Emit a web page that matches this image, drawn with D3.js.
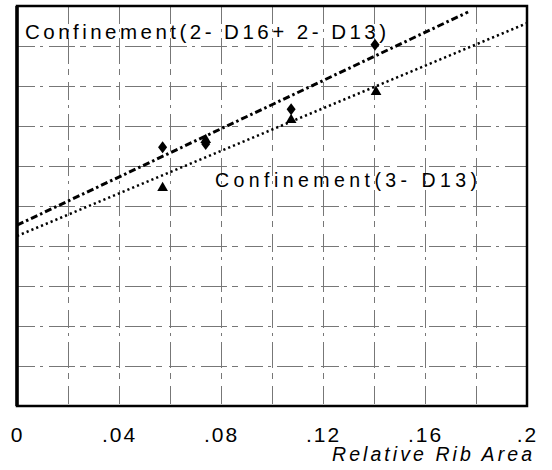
<!DOCTYPE html>
<html>
<head>
<meta charset="utf-8">
<script src="https://cdn.jsdelivr.net/npm/d3@7"></script>
<style>
  html, body { margin: 0; padding: 0; background: #fff; }
  svg { display: block; font-family: "Liberation Sans", Arial, sans-serif; }
</style>
</head>
<body>
<svg id="chart" width="552" height="470"></svg>
<script>
// x tick values and their labels
var xTicks = [0, 0.04, 0.08, 0.12, 0.16, 0.2];
var xTickLabels = ['0', '.04', '.08', '.12', '.16', '.2'];
var xGrid = [0.02, 0.04, 0.06, 0.08, 0.1, 0.12, 0.14, 0.16, 0.18];
var yGrid = [1, 2, 3, 4, 5, 6, 7, 8, 9];

// Confinement(2-D16+2-D13), diamonds
var seriesAX = [0.0571, 0.074, 0.1075, 0.1404];
var seriesAY = [6.47, 6.55, 7.42, 9.03];
// Confinement(3-D13), triangles
var seriesBX = [0.0571, 0.074, 0.1075, 0.1408];
var seriesBY = [5.45, 6.65, 7.15, 7.85];

// fitted lines, two end points each
var fitAX = [0, 0.1769];
var fitAY = [4.52, 9.85];
var fitBX = [0, 0.2];
var fitBY = [4.25, 9.57];

(function(){
    var svg = d3.select('#chart');
    // plot box
    var pLeft = 17, pRight = 527, pTop = 6, pBottom = 406;

    var x = d3.scaleLinear().domain([0, 0.2]).range([pLeft, pRight]);
    var y = d3.scaleLinear().domain([0, 10]).range([pBottom, pTop]);

    // grid
    var grid = svg.append('g').attr('class', 'grid')
        .attr('stroke', '#777').attr('stroke-width', 1)
        .attr('stroke-dasharray', '18,5,3,6,26,5,6,7');
    grid.selectAll('line.v').data(xGrid).enter().append('line')
        .attr('class', 'v')
        .attr('x1', function(d){ return Math.round(x(d)) + 0.5; })
        .attr('x2', function(d){ return Math.round(x(d)) + 0.5; })
        .attr('y1', pTop).attr('y2', pBottom);
    grid.selectAll('line.h').data(yGrid).enter().append('line')
        .attr('class', 'h')
        .attr('y1', function(d){ return Math.round(y(d)) + 0.5; })
        .attr('y2', function(d){ return Math.round(y(d)) + 0.5; })
        .attr('x1', pLeft).attr('x2', pRight);

    // frame
    svg.append('rect')
        .attr('x', pLeft).attr('y', pTop)
        .attr('width', pRight - pLeft).attr('height', pBottom - pTop)
        .attr('fill', 'none').attr('stroke', '#000').attr('stroke-width', 2.5);
    svg.append('line').attr('x1', pLeft).attr('x2', pLeft).attr('y1', pTop).attr('y2', pBottom)
        .attr('stroke', '#000').attr('stroke-width', 3.5);

    // fitted lines
    var line = d3.line()
        .x(function(d){ return x(d[0]); })
        .y(function(d){ return y(d[1]); });

    svg.append('path')
        .datum(d3.zip(fitAX, fitAY))
        .attr('d', line)
        .attr('fill', 'none').attr('stroke', '#000').attr('stroke-width', 3)
        .attr('stroke-dasharray', '7,3,2.5,3');

    svg.append('path')
        .datum(d3.zip(fitBX, fitBY))
        .attr('d', line)
        .attr('fill', 'none').attr('stroke', '#000').attr('stroke-width', 2.5)
        .attr('stroke-dasharray', '2.2,3');

    // markers
    svg.selectAll('path.tri').data(d3.zip(seriesBX, seriesBY)).enter().append('path')
        .attr('class', 'tri')
        .attr('d', d3.symbol().type(d3.symbolTriangle).size(50))
        .attr('transform', function(d){ return 'translate(' + x(d[0]) + ',' + y(d[1]) + ')'; })
        .attr('fill', '#000');

    svg.selectAll('path.dia').data(d3.zip(seriesAX, seriesAY)).enter().append('path')
        .attr('class', 'dia')
        .attr('d', d3.symbol().type(d3.symbolDiamond).size(42))
        .attr('transform', function(d){ return 'translate(' + x(d[0]) + ',' + y(d[1]) + ') scale(1.3,1)'; })
        .attr('fill', '#000');

    // x axis
    var xAxis = d3.axisBottom(x)
        .tickValues(xTicks)
        .tickFormat(function(d, i){ return xTickLabels[i]; })
        .tickSize(0);
    var gx = svg.append('g').attr('transform', 'translate(0,' + pBottom + ')').call(xAxis);
    gx.select('.domain').remove();
    gx.selectAll('text')
        .attr('y', 36).attr('dy', 0)
        .attr('fill', '#000')
        .style('font-size', '21px')
        .style('letter-spacing', '2px')
        .style('font-family', '"Liberation Sans", Arial, sans-serif');

    // labels
    svg.append('text')
        .attr('x', 25).attr('y', 39)
        .attr('textLength', 361).attr('lengthAdjust', 'spacing')
        .style('font-size', '20.5px')
        .text('Confinement(2- D16+ 2- D13)');

    svg.append('text')
        .attr('x', 215).attr('y', 187)
        .attr('textLength', 262).attr('lengthAdjust', 'spacing')
        .style('font-size', '19.5px')
        .text('Confinement(3- D13)');

    svg.append('text')
        .attr('x', 332).attr('y', 461)
        .attr('textLength', 200).attr('lengthAdjust', 'spacing')
        .style('font-size', '19.5px').style('font-style', 'italic')
        .text('Relative Rib Area');
})();
</script>
</body>
</html>
